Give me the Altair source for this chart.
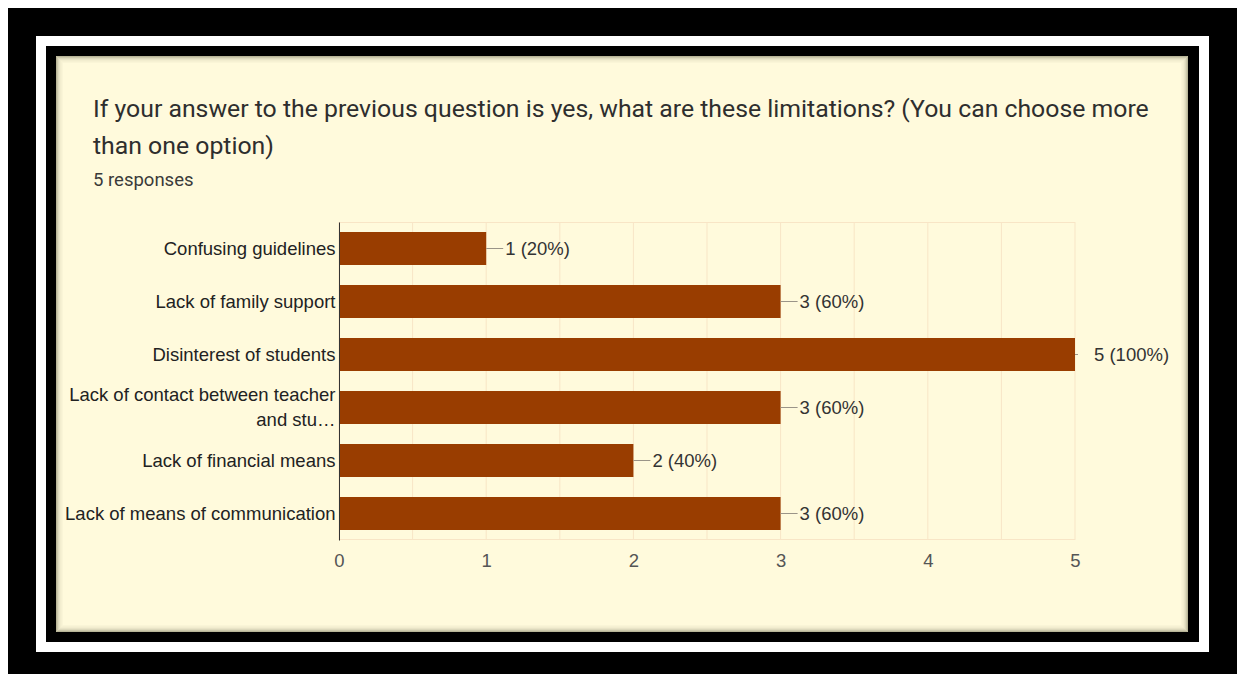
import altair as alt
import pandas as pd

# ---- data ----
categories = [
    "Confusing guidelines",
    "Lack of family support",
    "Disinterest of students",
    "Lack of contact between teacher\nand stu…",
    "Lack of financial means",
    "Lack of means of communication",
]
counts = [1, 3, 5, 3, 2, 3]
total_responses = 5
x_ticks = [0, 1, 2, 3, 4, 5]
grid_values = [0, 0.5, 1, 1.5, 2, 2.5, 3, 3.5, 4, 4.5, 5]

title_lines = [
    "If your answer to the previous question is yes, what are these limitations? (You can choose more",
    "than one option)",
]
subtitle = "5 responses"

df = pd.DataFrame({"category": categories, "count": counts})
df["label"] = [f"{c} ({round(c / total_responses * 100)}%)" for c in counts]
max_count = max(counts)

grid_df = pd.DataFrame({"g": grid_values})
one = pd.DataFrame({"k": [0]})

W, H = 736, 318
PL, PT, PR, PB = 339, 222, 164, 134

BAR = "#993d00"
CREAM = "#fffadc"
GRID = "#f8e5c6"
LABEL_FONT = "Liberation Sans"
FS = 18.5


def frame_rect(x0, y0, x1, y1, **kw):
    return alt.Chart(one).mark_rect(**kw).encode(
        x=alt.value(x0 - PL), x2=alt.value(x1 - PL),
        y=alt.value(y0 - PT), y2=alt.value(y1 - PT),
    )


frames = [
    frame_rect(8, 8, 1237, 674, color="#000000"),
    frame_rect(36, 36, 1209, 652, color="#ffffff"),
    frame_rect(46, 46, 1199, 642, color="#000000"),
    frame_rect(56, 56, 1188, 632, color=CREAM),
]
# soft inner shadow of the cream panel
shadow_op = [0.42, 0.3, 0.2, 0.13, 0.08, 0.05, 0.03]
for i, op in enumerate(shadow_op):
    d = i + 0.5
    frames.append(
        frame_rect(56 + d, 56 + d, 1188 - d, 632 - d, filled=False,
                   stroke="#55553a", strokeWidth=1, strokeOpacity=op)
    )

xscale = alt.Scale(domain=[0, 5], nice=False, zero=True)

grid = alt.Chart(grid_df).mark_rule(color=GRID, strokeWidth=1).encode(
    x=alt.X("g:Q", scale=xscale)
)
hlines = [
    alt.Chart(one).mark_rule(color=GRID, strokeWidth=1).encode(
        x=alt.value(0), x2=alt.value(W), y=alt.value(yv)
    )
    for yv in (0.5, H - 0.5)
]

base = alt.Chart(df)
y_enc = alt.Y(
    "category:N",
    sort=categories,
    scale=alt.Scale(paddingInner=0.38, paddingOuter=0.19),
    axis=alt.Axis(
        title=None,
        domain=True,
        domainColor="#333333",
        domainWidth=1,
        ticks=False,
        grid=False,
        labelFont=LABEL_FONT,
        labelFontSize=FS,
        labelColor="#222222",
        labelPadding=4,
        labelLimit=400,
        labelLineHeight=25,
        labelExpr="split(datum.label, '\\n')",
        labelOffset={
            "condition": {"test": "indexof(datum.value, '\\n') >= 0", "value": -12.5},
            "value": 0,
        },
        zindex=1,
    ),
)

bars = base.mark_bar(color=BAR).encode(
    x=alt.X(
        "count:Q",
        scale=xscale,
        axis=alt.Axis(
            title=None,
            values=x_ticks,
            format="d",
            domain=False,
            ticks=False,
            grid=False,
            labelFlush=False,
            labelFont=LABEL_FONT,
            labelFontSize=FS,
            labelColor="#555555",
            labelPadding=11,
            zindex=1,
        ),
    ),
    y=y_enc,
)

leaders = base.transform_filter(alt.datum["count"] < max_count).mark_rule(
    color="#9a9488", strokeWidth=1, x2Offset=17
).encode(x="count:Q", x2="count:Q", y=alt.Y("category:N", sort=categories))

leaders_max = base.transform_filter(alt.datum["count"] >= max_count).mark_rule(
    color="#9a9488", strokeWidth=1, x2Offset=3
).encode(x="count:Q", x2="count:Q", y=alt.Y("category:N", sort=categories))

texts = base.mark_text(
    align="left", baseline="middle", dx=19, font=LABEL_FONT,
    fontSize=FS, color="#333333",
).encode(x="count:Q", y=alt.Y("category:N", sort=categories), text="label:N")

chart = alt.layer(
    *frames, grid, *hlines, bars, leaders, leaders_max, texts
).properties(
    width=W,
    height=H,
    padding={"left": PL, "top": PT, "right": PR, "bottom": PB},
    autosize=alt.AutoSizeParams(type="none"),
    background="#ffffff",
    title=alt.TitleParams(
        text=title_lines,
        subtitle=subtitle,
        anchor="start",
        frame="group",
        dx=93 - PL,
        dy=216,
        offset=35,
        font="Roboto",
        fontSize=24.8,
        fontWeight="normal",
        color="#2e2e2e",
        lineHeight=37,
        subtitleFont="Roboto",
        subtitleFontSize=18.5,
        subtitleColor="#3a3a3a",
        subtitlePadding=12,
    ),
).configure_view(stroke=None)

chart.save("out.html", embed_options={"renderer": "svg", "actions": False})
